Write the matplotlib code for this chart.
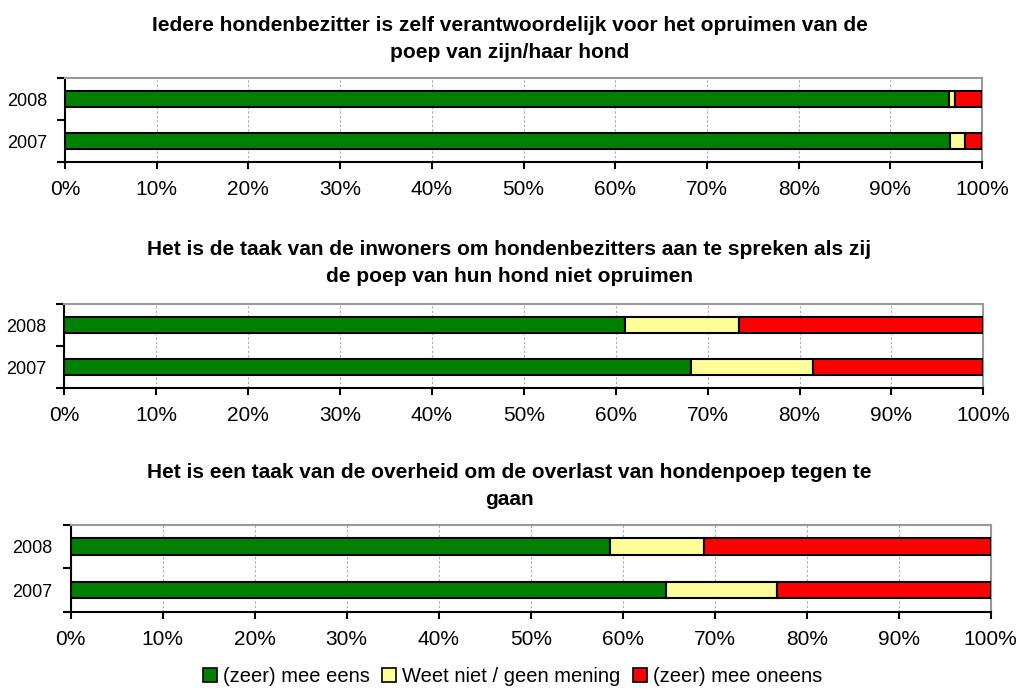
import numpy as np
import matplotlib
matplotlib.use("Agg")
import matplotlib.pyplot as plt
from matplotlib.patches import Patch

plt.rcParams['font.family'] = ['Liberation Sans', 'DejaVu Sans']

# Data (percentages)
years = ['2007', '2008']
categories = ['(zeer) mee eens', 'Weet niet / geen mening', '(zeer) mee oneens']
colors = ['#008000', '#FFFF99', '#FF0000']

titles = [
    'Iedere hondenbezitter is zelf verantwoordelijk voor het opruimen van de\npoep van zijn/haar hond',
    'Het is de taak van de inwoners om hondenbezitters aan te spreken als zij\nde poep van hun hond niet opruimen',
    'Het is een taak van de overheid om de overlast van hondenpoep tegen te\ngaan',
]

# each list: [2007, 2008]
eens = [[96.5, 96.4], [68.2, 61.0], [64.7, 58.6]]
weet_niet = [[1.6, 0.6], [13.3, 12.4], [12.1, 10.2]]
oneens = [[1.9, 3.0], [18.5, 26.6], [23.2, 31.2]]

xticks = np.arange(0, 101, 10)
xticklabels = [f'{v}%' for v in xticks]

# axes boxes in figure fraction: left, bottom, width, height
boxes = [
    [0.0638, 0.7682, 0.9000, 0.1202],
    [0.0631, 0.4449, 0.9019, 0.1202],
    [0.0694, 0.1245, 0.9028, 0.1244],
]
title_y = [0.944, 0.624, 0.305]

fig = plt.figure(figsize=(10.19, 6.99), dpi=100)

for i in range(3):
    ax = fig.add_axes(boxes[i])
    y = np.arange(len(years))
    left = np.zeros(len(years))
    for vals, col in zip([eens[i], weet_niet[i], oneens[i]], colors):
        ax.barh(y, vals, left=left, height=0.38, color=col,
                edgecolor='black', linewidth=1.5, zorder=3)
        left = left + np.array(vals)

    ax.set_xlim(0, 100)
    ax.set_ylim(-0.5, 1.5)
    ax.set_xticks(xticks)
    ax.set_xticklabels(xticklabels, fontsize=15)
    ax.tick_params(axis='x', direction='out', length=5, width=1.5, pad=8)

    ax.set_yticks([-0.5, 0.5, 1.5])
    ax.set_yticklabels([])
    ax.set_yticks(y, minor=True)
    ax.set_yticklabels(years, minor=True, fontsize=13)
    ax.tick_params(axis='y', which='major', direction='out', length=6, width=1.5)
    ax.tick_params(axis='y', which='minor', length=0, pad=13)

    ax.grid(axis='x', linestyle=(0, (2, 2)), color='#AAAAAA', linewidth=0.8, zorder=0)
    ax.set_axisbelow(True)

    ax.spines['left'].set_linewidth(1.5)
    ax.spines['bottom'].set_linewidth(1.5)
    ax.spines['top'].set_color('#999999')
    ax.spines['right'].set_color('#999999')
    ax.spines['top'].set_linewidth(1.5)
    ax.spines['right'].set_linewidth(1.5)

    fig.text(0.5, title_y[i], titles[i], ha='center', va='center',
             fontsize=15, fontweight='bold', linespacing=1.55)

handles = [Patch(facecolor=c, edgecolor='black', linewidth=1.2) for c in colors]
fig.legend(handles, categories, loc='center', bbox_to_anchor=(0.503, 0.032),
           ncol=3, frameon=False, fontsize=14.5, handlelength=0.7, handleheight=0.7,
           handletextpad=0.3, columnspacing=0.6)

fig.savefig('out.png', dpi=100)
